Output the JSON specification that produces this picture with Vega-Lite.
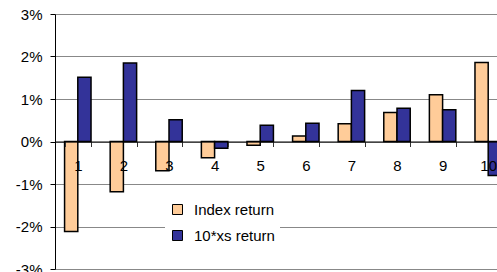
{
  "$schema": "https://vega.github.io/schema/vega-lite/v6.json",
  "width": 442,
  "height": 255,
  "autosize": {"type": "none"},
  "padding": {"left": 55, "top": 14, "right": 0, "bottom": 3},
  "background": "white",
  "config": {"view": {"stroke": null}, "font": "Liberation Sans"},
  "data": {
    "values": [
      {"decile": "1", "series": "Index return", "value": -0.0212},
      {"decile": "1", "series": "10*xs return", "value": 0.0151},
      {"decile": "2", "series": "Index return", "value": -0.0118},
      {"decile": "2", "series": "10*xs return", "value": 0.0185},
      {"decile": "3", "series": "Index return", "value": -0.0069},
      {"decile": "3", "series": "10*xs return", "value": 0.0051},
      {"decile": "4", "series": "Index return", "value": -0.0038},
      {"decile": "4", "series": "10*xs return", "value": -0.0016},
      {"decile": "5", "series": "Index return", "value": -0.0009},
      {"decile": "5", "series": "10*xs return", "value": 0.0038},
      {"decile": "6", "series": "Index return", "value": 0.0013},
      {"decile": "6", "series": "10*xs return", "value": 0.0043},
      {"decile": "7", "series": "Index return", "value": 0.0042},
      {"decile": "7", "series": "10*xs return", "value": 0.0120},
      {"decile": "8", "series": "Index return", "value": 0.0068},
      {"decile": "8", "series": "10*xs return", "value": 0.0078},
      {"decile": "9", "series": "Index return", "value": 0.0110},
      {"decile": "9", "series": "10*xs return", "value": 0.0075},
      {"decile": "10", "series": "Index return", "value": 0.0186},
      {"decile": "10", "series": "10*xs return", "value": -0.0080}
    ]
  },
  "mark": {"type": "bar", "stroke": "black", "strokeWidth": 1.5},
  "encoding": {
    "x": {
      "field": "decile",
      "type": "ordinal",
      "sort": null,
      "scale": {"range": [0, 456], "paddingInner": 0.42, "paddingOuter": 0.21},
      "axis": {
        "title": null,
        "orient": "bottom",
        "offset": -127.5,
        "labelAngle": 0,
        "domainColor": "black",
        "tickColor": "#333",
        "tickSize": 5,
        "tickBand": "extent",
        "labelPadding": 12,
        "labelFontSize": 15,
        "labelColor": "black",
        "grid": false,
        "zindex": 1
      }
    },
    "xOffset": {"field": "series", "sort": ["Index return", "10*xs return"]},
    "y": {
      "field": "value",
      "type": "quantitative",
      "scale": {"domain": [-0.03, 0.03], "nice": false, "zero": false},
      "axis": {
        "title": null,
        "values": [-0.03, -0.02, -0.01, 0, 0.01, 0.02, 0.03],
        "labelExpr": "round(datum.value*100) + '%'",
        "domainColor": "black",
        "tickColor": "black",
        "tickSize": 5,
        "labelPadding": 8,
        "labelFontSize": 15,
        "labelColor": "black",
        "gridColor": "#888"
      }
    },
    "color": {
      "field": "series",
      "type": "nominal",
      "scale": {"domain": ["Index return", "10*xs return"], "range": ["#FFCC99", "#333399"]},
      "legend": {
        "title": null,
        "orient": "none",
        "legendX": 110,
        "legendY": 183,
        "fillColor": "white",
        "padding": 5,
        "symbolType": "square",
        "symbolSize": 100,
        "symbolStrokeColor": "black",
        "symbolStrokeWidth": 1,
        "symbolOpacity": 1,
        "labelFontSize": 15,
        "labelColor": "black",
        "labelOffset": 9,
        "rowPadding": 10
      }
    }
  }
}
